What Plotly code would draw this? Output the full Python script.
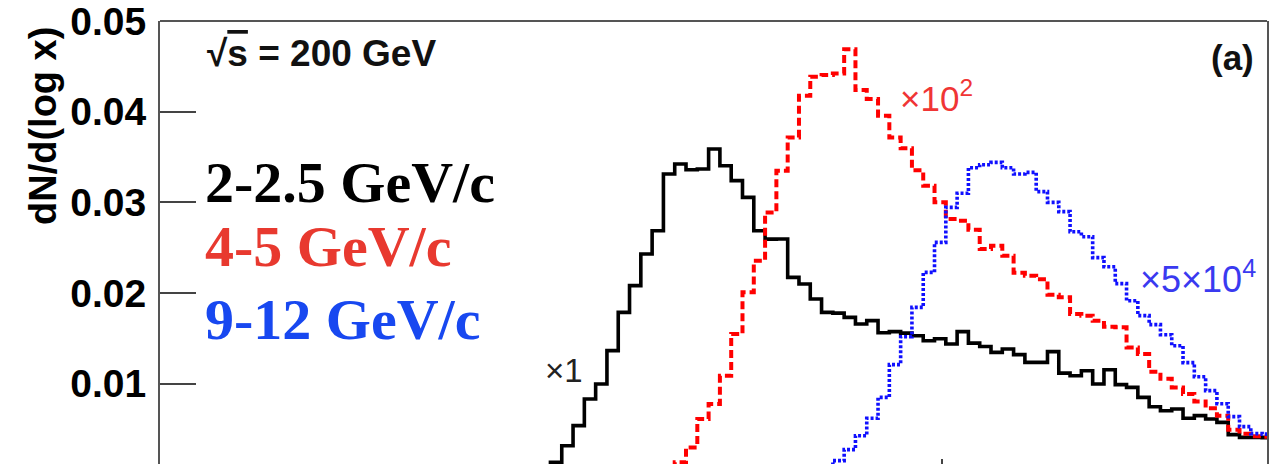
import numpy as np
import plotly.graph_objects as go

# Histogram binning: uniform in log10(x)
BIN_LOG_ORIGIN = -3.0
BIN_LOG_WIDTH = 0.03

# pT 2-2.5 GeV/c (x1)
black_first_bin = 28
black_vals = [
    0.0002, 0.0003, 0.0005, 0.0008,
    0.00132, 0.00316, 0.00537, 0.00831, 0.00997, 0.01364, 0.01786, 0.02081,
    0.02430, 0.02687, 0.03313, 0.03423, 0.03360, 0.03368, 0.03589, 0.03404,
    0.03239, 0.03055, 0.02687, 0.02594, 0.02596, 0.02172, 0.02100, 0.01934,
    0.01786, 0.01778, 0.01731, 0.01658, 0.01695, 0.01562, 0.01574, 0.01557,
    0.01529, 0.01474, 0.01496, 0.01438, 0.01574, 0.01447, 0.01410, 0.01345,
    0.01383, 0.01320, 0.01235, 0.01235, 0.01353, 0.01116, 0.01088, 0.01143,
    0.00997, 0.01154, 0.00989, 0.00959, 0.00849, 0.00746, 0.00702, 0.00721,
    0.00619, 0.00647, 0.00611, 0.00573, 0.00438, 0.00408, 0.00408, 0.00405,
    0.00400,
]

# pT 4-5 GeV/c (x10^2)
red_first_bin = 40
red_vals = [
    0.0003, 0.0005, 0.0008,
    0.00132, 0.00297, 0.00611, 0.00776, 0.01088, 0.01548, 0.02007, 0.02357,
    0.02889, 0.03349, 0.03716, 0.04176, 0.04386, 0.04405, 0.04422, 0.04689,
    0.04239, 0.04140, 0.03956, 0.03716, 0.03597, 0.03355, 0.03184, 0.03000,
    0.02816, 0.02798, 0.02698, 0.02486, 0.02522, 0.02412, 0.02224, 0.02191,
    0.02153, 0.01982, 0.01952, 0.01769, 0.01750, 0.01695, 0.01629, 0.01621,
    0.01400, 0.01328, 0.01132, 0.01055, 0.00959, 0.00886, 0.00804, 0.00730,
    0.00647, 0.00493, 0.00449, 0.00421, 0.00415, 0.00410,
]

# pT 9-12 GeV/c (x5x10^4)
blue_first_bin = 54
blue_vals = [
    0.0003, 0.0005, 0.0008,
    0.00151, 0.00272, 0.00426, 0.00619, 0.00849, 0.01210, 0.01518, 0.01841,
    0.02228, 0.02558, 0.02944, 0.03101, 0.03382, 0.03415, 0.03441, 0.03382,
    0.03313, 0.03330, 0.03118, 0.03000, 0.02897, 0.02676, 0.02621, 0.02390,
    0.02290, 0.02103, 0.01915, 0.01750, 0.01651, 0.01540, 0.01419, 0.01232,
    0.01077, 0.00923, 0.00779, 0.00636, 0.00526, 0.00449, 0.00443, 0.00440,
]

y_ticks = [0.01, 0.02, 0.03, 0.04, 0.05]
y_tick_text = ["0.01", "0.02", "0.03", "0.04", "0.05"]

W, H = 1271, 464
ML, MR, MT, MB = 160, 4, 21, 0
PW, PH = W - ML - MR, H - MT - MB


def px(x):
    return (x - ML) / PW


def py(y):
    return (H - MB - y) / PH


def step_xy(first_bin, vals):
    k = np.arange(first_bin, first_bin + len(vals) + 1)
    x = 10 ** (BIN_LOG_ORIGIN + BIN_LOG_WIDTH * k)
    y = list(vals) + [vals[-1]]
    return x, y


fig = go.Figure()

for first, vals, color, dash, width in [
    (black_first_bin, black_vals, "#000000", "solid", 3.6),
    (red_first_bin, red_vals, "#ff0000", "8px,4px", 4.0),
    (blue_first_bin, blue_vals, "#1010ff", "3px,2px", 3.6),
]:
    x, y = step_xy(first, vals)
    fig.add_trace(go.Scatter(
        x=x, y=y, mode="lines", line_shape="hv",
        line=dict(color=color, width=width, dash=dash),
        showlegend=False, hoverinfo="skip",
    ))

sans_b = dict(family="Liberation Sans", weight="bold")
serif_b = dict(family="Liberation Serif", weight="bold")

annotations = [
    dict(x=px(43), y=py(126), text="dN/d(log x)", textangle=-90,
         font=dict(size=38, color="#000000", **sans_b),
         xanchor="center", yanchor="middle"),
    dict(x=px(205), y=py(53),
         text="√<span style='text-decoration:overline'>s</span> = 200 GeV",
         font=dict(size=37, color="#111111", **sans_b),
         xanchor="left", yanchor="middle"),
    dict(x=px(1256), y=py(57), text="(a)",
         font=dict(size=35, color="#111111", **sans_b),
         xanchor="right", yanchor="middle"),
    dict(x=px(203), y=py(182), text="2-2.5 GeV/c",
         font=dict(size=58, color="#000000", **serif_b),
         xanchor="left", yanchor="middle"),
    dict(x=px(203), y=py(246), text="4-5 GeV/c",
         font=dict(size=58, color="#e8392f", **serif_b),
         xanchor="left", yanchor="middle"),
    dict(x=px(203), y=py(319), text="9-12 GeV/c",
         font=dict(size=58, color="#1848f0", **serif_b),
         xanchor="left", yanchor="middle"),
    dict(x=px(543), y=py(370), text="×1",
         font=dict(size=33, color="#222222", family="Liberation Sans"),
         xanchor="left", yanchor="middle"),
    dict(x=px(898), y=py(96), text="×10<sup>2</sup>",
         font=dict(size=35, color="#f03535", family="Liberation Sans"),
         xanchor="left", yanchor="middle"),
    dict(x=px(1138), y=py(277), text="×5×10<sup>4</sup>",
         font=dict(size=36, color="#3a3af0", family="Liberation Sans"),
         xanchor="left", yanchor="middle"),
]
for a in annotations:
    a.update(xref="paper", yref="paper", showarrow=False)

fig.update_layout(
    width=W, height=H,
    margin=dict(l=ML, r=MR, t=MT, b=MB, pad=0),
    paper_bgcolor="white", plot_bgcolor="white",
    annotations=annotations,
    shapes=[dict(type="line", xref="paper", yref="paper",
                 x0=0, x1=1, y0=1, y1=1,
                 line=dict(color="#555555", width=2))],
)

fig.update_xaxes(
    type="log", range=[-3.077, -0.137],
    showgrid=False, zeroline=False, showline=False,
    ticks="inside", tickvals=[0.1], ticklen=5, tickwidth=1.5,
    tickcolor="#444444", showticklabels=False,
)
fig.update_yaxes(
    range=[0.00114, 0.05],
    showgrid=False, zeroline=False,
    showline=True, mirror=True, linecolor="#555555", linewidth=2,
    ticks="inside", ticklen=36, tickwidth=2, tickcolor="#444444",
    tickvals=y_ticks, ticktext=y_tick_text,
    tickfont=dict(size=39, color="#000000", **sans_b),
    ticklabelstandoff=4, ticklabeloverflow="allow",
)

fig.write_html("out.html")
